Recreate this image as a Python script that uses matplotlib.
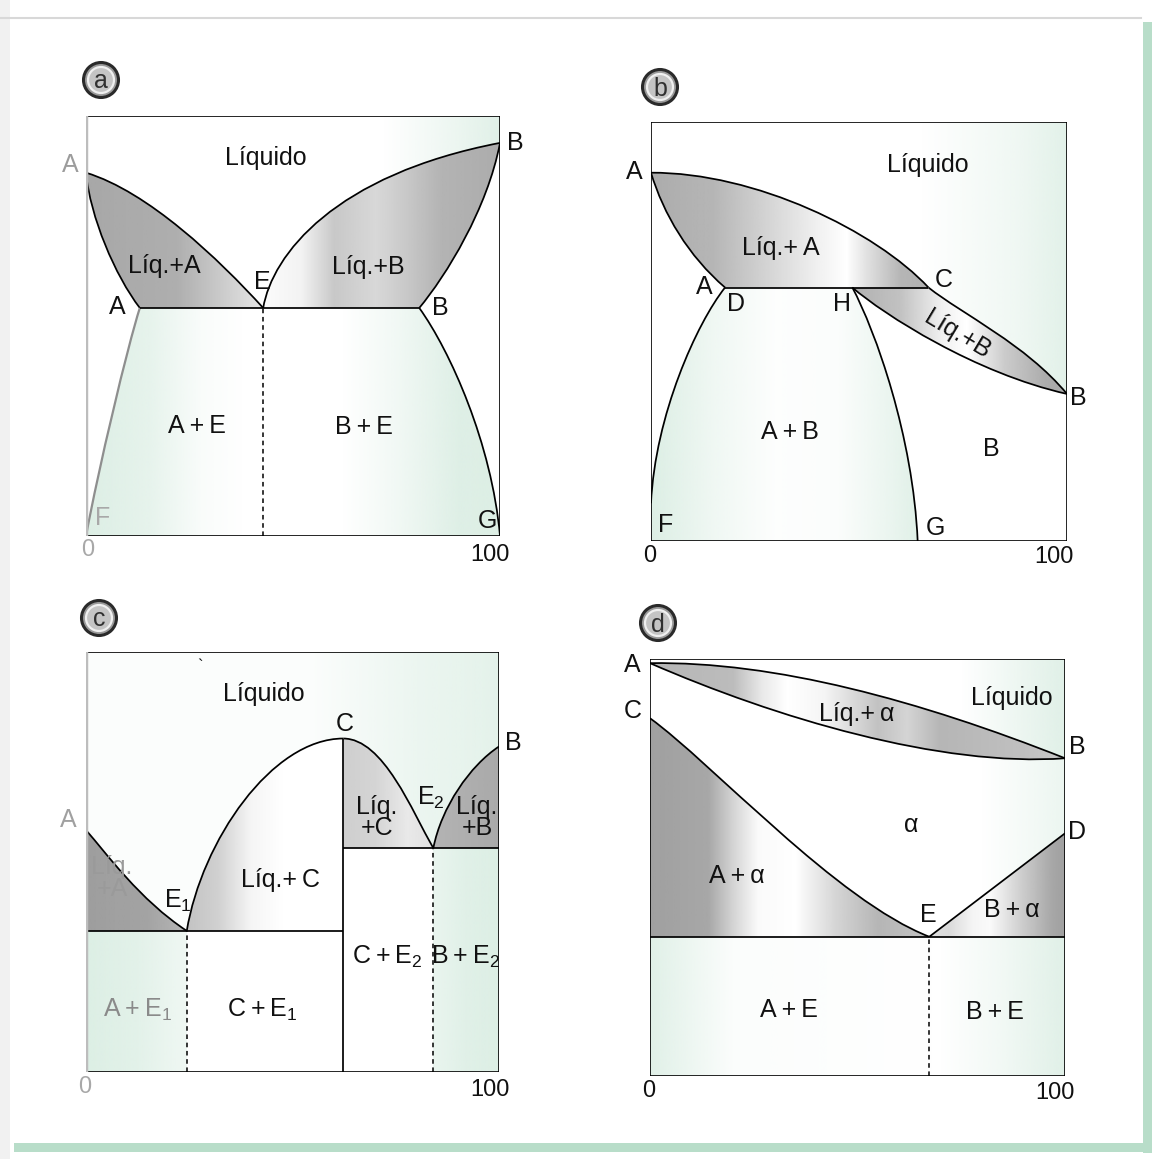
import numpy as np
import matplotlib.pyplot as plt
import matplotlib.colors as mcolors
from matplotlib.path import Path
from matplotlib.patches import PathPatch, Circle, Rectangle

plt.rcParams['font.family'] = ['Liberation Sans', 'DejaVu Sans']
plt.rcParams['mathtext.fontset'] = 'custom'
plt.rcParams['mathtext.rm'] = 'Liberation Sans'
plt.rcParams['mathtext.it'] = 'Liberation Sans'

# ---- curve control points (x = % B, y = temperature, both 0..100) ----
# panel a: simple eutectic with partial solubility
a_liq_A = [(0, 86.5), (15, 82), (32, 66), (42.8, 54.3)]
a_sol_A = [(0, 86.5), (1, 76), (7, 62), (13, 54.3)]
a_liq_B = [(42.8, 54.3), (45, 67), (60, 86), (100, 93.6)]
a_sol_B = [(80.5, 54.3), (87, 62), (97, 78), (100, 93.6)]
a_F = [(13, 54.3), (10, 45), (3, 16), (0, 0)]
a_G = [(80.5, 54.3), (88, 44), (98, 22), (100, 0)]
a_eut = 54.3
a_xE = 42.8

# panel b: peritectic
b_liq_AC = [(0, 87.9), (25, 88), (54, 74), (66.7, 60.5)]
b_sol_AD = [(0, 87.9), (3, 78), (9, 68), (17.8, 60.5)]
b_DF = [(17.8, 60.5), (11, 52), (1, 30), (0, 9)]
b_up_CB = [(66.7, 60.5), (75, 54), (90, 47), (100, 35.1)]
b_lo_HB = [(48.4, 60.5), (56, 54), (78, 40), (100, 35.1)]
b_HG = [(48.4, 60.5), (54, 50), (63, 25), (64.1, 0)]
b_per = 60.5

# panel c: congruent compound C with two eutectics
c_liq_AE1 = [(0, 57.6), (5, 52), (13, 41), (24.4, 33.6)]
c_E1C = [(24.4, 33.6), (28, 55), (45, 79.4), (62.3, 79.4)]
c_CE2 = [(62.3, 79.4), (72, 79.4), (79, 62), (84.1, 53.3)]
c_E2B = [(84.1, 53.3), (86, 63), (93, 73), (100, 77.5)]
c_e1, c_e2 = 33.6, 53.3
c_xE1, c_xC, c_xE2 = 24.4, 62.3, 84.1

# panel d: solid solution alpha with eutectic
d_liq_AB = [(0, 99), (30, 99.5), (65, 90), (100, 76.2)]
d_sol_AB = [(0, 99), (30, 86), (70, 74), (100, 76.2)]
d_CE = [(0, 85.8), (15, 75), (45, 42), (67.3, 33.4)]
d_D = (100, 58.2)
d_eut = 33.4
d_xE = 67.3

GRAY = '#858585'
GREEN = '#d9ede2'
FS = 18


def make_path(*pieces):
    verts, codes = [pieces[0][0]], [Path.MOVETO]
    for p in pieces:
        if len(p) == 2:
            verts.append(p[1])
            codes.append(Path.LINETO)
        else:
            verts += list(p[1:])
            codes += [Path.CURVE4] * 3
    return Path(verts, codes)


def rev(p):
    return p[::-1]


def shade(ax, path, stops, color):
    xs, al = zip(*stops)
    grid = np.linspace(0, 100, 500)
    img = np.zeros((1, 500, 4))
    img[..., :3] = mcolors.to_rgb(color)
    img[0, :, 3] = np.interp(grid, xs, al)
    im = ax.imshow(img, extent=(0, 100, 0, 100), aspect='auto',
                   interpolation='bilinear', zorder=1)
    im.set_clip_path(PathPatch(path, transform=ax.transData))


def stroke(ax, *pieces, color='k', lw=1.25):
    ax.add_patch(PathPatch(make_path(*pieces), fill=False, lw=lw,
                           ec=color, zorder=3))


def dashed(ax, x, y):
    ax.plot([x, x], [0, y], color='k', lw=1.1, ls=(0, (3, 2.4)), zorder=3)


def box(ax, left_gray=False):
    ax.plot([0, 100, 100, 0], [100, 100, 0, 0], color='k', lw=1.2, zorder=4,
            solid_joinstyle='miter')
    if left_gray:
        ax.plot([0, 0], [0, 100], color='#bdbdbd', lw=3.2, zorder=4)
    else:
        ax.plot([0, 0], [0, 100], color='k', lw=1.2, zorder=4)


def lab(ax, x, y, s, color='#111111', size=FS, **kw):
    ax.text(x, y, s, ha='center', va='center', fontsize=size, color=color,
            zorder=5, **kw)


W, H = 1158, 1159
fig = plt.figure(figsize=(W / 100, H / 100), dpi=100)

# page background / frame
bg = fig.add_axes([0, 0, 1, 1])
bg.set_xlim(0, W)
bg.set_ylim(H, 0)
bg.axis('off')
bg.add_patch(Rectangle((0, 0), 10, H, color='#f1f1f1', lw=0))
bg.plot([0, 1141], [18, 18], color='#d8d8d8', lw=1.5)
bg.add_patch(Rectangle((1143, 22), 9, 1131, color='#b8ddc9', lw=0))
bg.add_patch(Rectangle((14, 1143), 1138, 9, color='#b8ddc9', lw=0))

for (cx, cy), letter in zip([(101, 80), (660, 87), (99, 618), (658, 623)], 'abcd'):
    bg.add_patch(Circle((cx, cy), 17.5, fc='#9a9a9a', ec='#2a2a2a', lw=2.2))
    bg.add_patch(Circle((cx, cy), 13, fc='#c4c4c4', ec='#f0f0f0', lw=1.6))
    bg.text(cx, cy + 1.5, letter, ha='center', va='center', fontsize=18,
            color='#303030')


def panel(left, top, w, h):
    ax = fig.add_axes([left / W, 1 - (top + h) / H, w / W, h / H])
    ax.axis('off')
    return ax


TS = '\u2009'

# ---------------- panel a ----------------
ax = panel(86, 116, 414, 420)
E = a_liq_A[-1]
shade(ax, make_path([(0, 100), (100, 100)], [(100, 100), a_liq_B[-1]],
                    rev(a_liq_B), rev(a_liq_A), [a_liq_A[0], (0, 100)]),
      [(0, 0), (72, 0), (90, 0.5), (100, 0.8)], GREEN)
shade(ax, make_path(a_liq_A, [E, a_sol_A[-1]], rev(a_sol_A)),
      [(0, 0.72), (22, 0.66), (33, 0.42), (43, 0.2)], GRAY)
shade(ax, make_path(a_liq_B, rev(a_sol_B), [a_sol_B[0], E]),
      [(43, 0.03), (52, 0.1), (60, 0.45), (70, 0.32), (76, 0.42), (86, 0.62), (100, 0.68)], GRAY)
shade(ax, make_path([(0, 0), (100, 0)], rev(a_G), [a_G[0], a_F[0]], a_F),
      [(0, 0.9), (15, 0.65), (28, 0.15), (38, 0), (62, 0), (75, 0.35), (90, 0.85), (100, 0.9)], GREEN)
for c in (a_liq_A, a_sol_A, a_liq_B, a_sol_B, a_G):
    stroke(ax, c)
stroke(ax, a_F, color='#8e8e8e', lw=1.6)
stroke(ax, [a_sol_A[-1], a_sol_B[0]])
dashed(ax, a_xE, a_eut)
box(ax, left_gray=True)
lab(ax, -3.9, 88.3, 'A', color='#9c9c9c')
lab(ax, 43.5, 90, 'Líquido')
lab(ax, 103.6, 93.6, 'B')
lab(ax, 18.8, 64.3, 'Líq.+A')
lab(ax, 42.5, 60.5, 'E')
lab(ax, 68.1, 64, 'Líq.+B')
lab(ax, 7.5, 54.5, 'A')
lab(ax, 85.5, 54.3, 'B')
lab(ax, 26.8, 26.2, f'A{TS}+{TS}E')
lab(ax, 67.1, 26, f'B{TS}+{TS}E')
lab(ax, 3.9, 4.3, 'F', color='#a8a8a8')
lab(ax, 96.9, 3.6, 'G')
lab(ax, 0.5, -3.3, '0', color='#a8a8a8', size=17)
lab(ax, 97.6, -4.5, '100', size=17)
ax.set_xlim(0, 100)
ax.set_ylim(0, 100)

# ---------------- panel b ----------------
ax = panel(651, 122, 416, 419)
C = b_liq_AC[-1]
D = b_sol_AD[-1]
Hp = b_lo_HB[0]
shade(ax, make_path([(0, 100), (100, 100)], [(100, 100), b_up_CB[-1]],
                    rev(b_up_CB), rev(b_liq_AC), [b_liq_AC[0], (0, 100)]),
      [(0, 0), (65, 0), (88, 0.4), (100, 0.75)], GREEN)
shade(ax, make_path(b_liq_AC, [C, D], rev(b_sol_AD)),
      [(0, 0.68), (15, 0.6), (28, 0.35), (40, 0.12), (47, 0), (52, 0.25), (60, 0.6), (67, 0.65)], GRAY)
shade(ax, make_path(b_up_CB, rev(b_lo_HB), [Hp, C]),
      [(48, 0.65), (60, 0.5), (70, 0.12), (76, 0), (85, 0.42), (95, 0.68), (100, 0.7)], GRAY)
shade(ax, make_path([(0, 0), (b_HG[-1][0], 0)], rev(b_HG), [Hp, D], b_DF,
                    [b_DF[-1], (0, 0)]),
      [(0, 0.9), (15, 0.4), (30, 0.05), (45, 0.1), (58, 0.55), (64, 0.8)], GREEN)
for c in (b_liq_AC, b_sol_AD, b_DF, b_up_CB, b_lo_HB, b_HG):
    stroke(ax, c)
stroke(ax, [D, C])
box(ax)
lab(ax, -4.1, 88.1, 'A')
lab(ax, 66.6, 89.7, 'Líquido')
lab(ax, 31.3, 69.9, f'Líq.+{TS}A')
lab(ax, 70.4, 62.3, 'C')
lab(ax, 12.7, 60.6, 'A')
lab(ax, 20.4, 56.6, 'D')
lab(ax, 45.9, 56.6, 'H')
lab(ax, 73.6, 49.2, 'Líq.+B', rotation=-31)
lab(ax, 102.6, 34.1, 'B')
lab(ax, 33.4, 26, f'A{TS}+{TS}B')
lab(ax, 81.7, 22, 'B')
lab(ax, 3.6, 3.8, 'F')
lab(ax, 68.3, 3.1, 'G')
lab(ax, -0.2, -3.6, '0', size=17)
lab(ax, 96.9, -3.8, '100', size=17)
ax.set_xlim(0, 100)
ax.set_ylim(0, 100)

# ---------------- panel c ----------------
ax = panel(86, 652, 413, 420)
shade(ax, make_path([(0, 100), (100, 100)], [(100, 100), c_E2B[-1]],
                    rev(c_E2B), rev(c_CE2), rev(c_E1C), rev(c_liq_AE1),
                    [c_liq_AE1[0], (0, 100)]),
      [(0, 0.1), (55, 0.1), (80, 0.5), (100, 0.7)], GREEN)
shade(ax, make_path(c_liq_AE1, [(c_xE1, c_e1), (0, c_e1)], [(0, c_e1), c_liq_AE1[0]]),
      [(0, 0.8), (15, 0.75), (24, 0.6)], GRAY)
shade(ax, make_path(c_E1C, [(c_xC, 79.4), (c_xC, c_e1)], [(c_xC, c_e1), (c_xE1, c_e1)]),
      [(24, 0.5), (32, 0.38), (40, 0.08), (48, 0)], GRAY)
shade(ax, make_path(c_CE2, [(c_xE2, c_e2), (c_xC, c_e2)], [(c_xC, c_e2), (c_xC, 79.4)]),
      [(62, 0.4), (70, 0.35), (78, 0.18), (84, 0.25)], GRAY)
shade(ax, make_path(c_E2B, [c_E2B[-1], (100, c_e2)], [(100, c_e2), (c_xE2, c_e2)]),
      [(84, 0.62), (100, 0.7)], GRAY)
shade(ax, make_path([(0, 0), (c_xE1, 0)], [(c_xE1, 0), (c_xE1, c_e1)],
                    [(c_xE1, c_e1), (0, c_e1)]),
      [(0, 0.9), (12, 0.75), (24.4, 0.4)], GREEN)
shade(ax, make_path([(c_xE2, 0), (100, 0)], [(100, 0), (100, c_e2)],
                    [(100, c_e2), (c_xE2, c_e2)]),
      [(84, 0.55), (92, 0.8), (100, 0.9)], GREEN)
for c in (c_liq_AE1, c_E1C, c_CE2, c_E2B):
    stroke(ax, c)
stroke(ax, [(0, c_e1), (c_xC, c_e1)])
stroke(ax, [(c_xC, 0), (c_xC, 79.4)])
stroke(ax, [(c_xC, c_e2), (100, c_e2)])
dashed(ax, c_xE1, c_e1)
dashed(ax, c_xE2, c_e2)
box(ax, left_gray=True)
lab(ax, 43.1, 90, 'Líquido')
lab(ax, 27.5, 96.5, '`', size=12)
lab(ax, 62.7, 82.9, 'C')
lab(ax, 103.4, 78.3, 'B')
lab(ax, -4.4, 60, 'A', color='#a0a0a0')
lab(ax, 70.5, 60.5, 'Líq.\n+C', linespacing=0.85)
lab(ax, 83.5, 65.2, r'E$_2$')
lab(ax, 94.7, 60.5, 'Líq.\n+B', linespacing=0.85)
lab(ax, 6.3, 46.2, 'Líq.\n+A', color='#9a9a9a', linespacing=0.85)
lab(ax, 22.3, 40.7, r'E$_1$')
lab(ax, 47, 45.7, f'Líq.+{TS}C')
lab(ax, 72.9, 27.4, f'C{TS}+{TS}E$_2$')
lab(ax, 91.8, 27.4, f'B{TS}+{TS}E$_2$')
lab(ax, 12.6, 14.8, f'A{TS}+{TS}E$_1$', color='#8a8a8a')
lab(ax, 42.6, 14.8, f'C{TS}+{TS}E$_1$')
lab(ax, -0.2, -3.6, '0', color='#a8a8a8', size=17)
lab(ax, 97.8, -4.3, '100', size=17)
ax.set_xlim(0, 100)
ax.set_ylim(0, 100)

# ---------------- panel d ----------------
ax = panel(650, 659, 415, 417)
Ed = d_CE[-1]
B = d_liq_AB[-1]
shade(ax, make_path([(0, 100), (100, 100)], [(100, 100), B], rev(d_liq_AB),
                    [d_liq_AB[0], (0, 100)]),
      [(0, 0), (75, 0), (90, 0.5), (100, 0.8)], GREEN)
shade(ax, make_path(d_liq_AB, rev(d_sol_AB)),
      [(0, 0.6), (20, 0.55), (27, 0.18), (33, 0), (42, 0.08), (55, 0.5), (62, 0.35),
       (70, 0.6), (90, 0.52), (100, 0.45)], GRAY)
shade(ax, make_path(d_sol_AB, [B, d_D], [d_D, Ed], rev(d_CE), [d_CE[0], d_sol_AB[0]]),
      [(0, 0), (80, 0), (100, 0.5)], GREEN)
shade(ax, make_path(d_CE, [Ed, (0, d_eut)], [(0, d_eut), d_CE[0]]),
      [(0, 0.78), (14, 0.72), (20, 0.35), (26, 0.04), (35, 0), (45, 0.35), (55, 0.6), (67, 0.5)], GRAY)
shade(ax, make_path([Ed, d_D], [d_D, (100, d_eut)], [(100, d_eut), Ed]),
      [(67, 0.25), (72, 0.3), (78, 0.08), (82, 0.04), (90, 0.42), (97, 0.72), (100, 0.78)], GRAY)
shade(ax, make_path([(0, 0), (100, 0)], [(100, 0), (100, d_eut)],
                    [(100, d_eut), (0, d_eut)]),
      [(0, 0.8), (10, 0.45), (20, 0.1), (70, 0), (85, 0.35), (100, 0.8)], GREEN)
for c in (d_liq_AB, d_sol_AB, d_CE):
    stroke(ax, c)
stroke(ax, [Ed, d_D])
stroke(ax, [(0, d_eut), (100, d_eut)])
dashed(ax, d_xE, d_eut)
box(ax)
lab(ax, -4.3, 98.6, 'A')
lab(ax, -4.1, 87.5, 'C')
lab(ax, 87.2, 90.6, 'Líquido')
lab(ax, 49.9, 86.8, f'Líq.+{TS}α')
lab(ax, 102.9, 78.9, 'B')
lab(ax, 62.9, 60.2, 'α')
lab(ax, 102.9, 58.5, 'D')
lab(ax, 21, 48, f'A{TS}+{TS}α')
lab(ax, 67, 38.6, 'E')
lab(ax, 87.2, 39.8, f'B{TS}+{TS}α')
lab(ax, 33.5, 15.8, f'A{TS}+{TS}E')
lab(ax, 83.1, 15.3, f'B{TS}+{TS}E')
lab(ax, -0.2, -3.6, '0', size=17)
lab(ax, 97.6, -4.1, '100', size=17)
ax.set_xlim(0, 100)
ax.set_ylim(0, 100)

plt.savefig('out.png', dpi=100)
